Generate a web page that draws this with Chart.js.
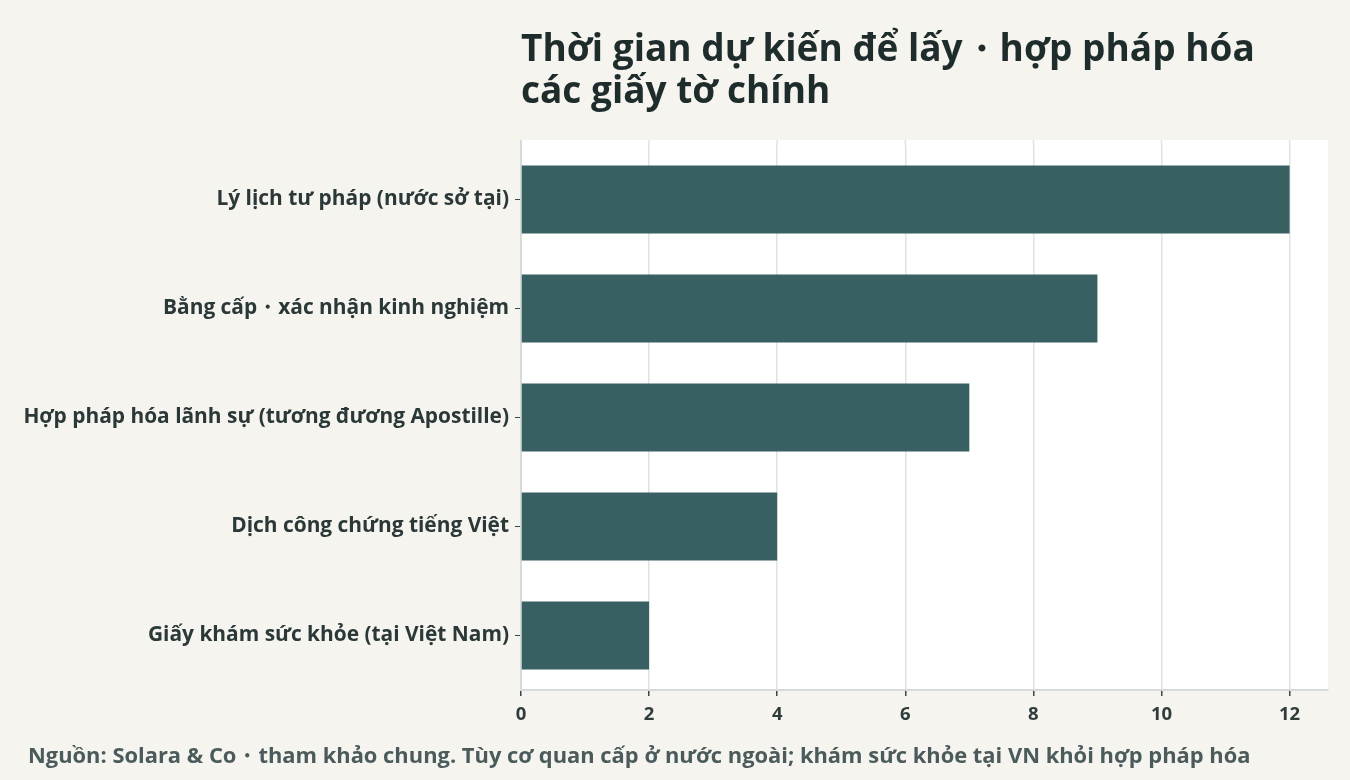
<!DOCTYPE html>
<html lang="vi">
<head>
  <meta charset="UTF-8">
  <title>Thời gian dự kiến để lấy · hợp pháp hóa các giấy tờ chính</title>
  <script src="https://cdn.jsdelivr.net/npm/chart.js"></script>
  <style>
    html, body { margin: 0; padding: 0; background: #f5f4ef; }
    #wrap { width: 1350px; height: 780px; position: relative; }
  </style>
</head>
<body>
  <div id="wrap"><canvas id="myChart"></canvas></div>
  <script>
    // Data
    var categories = [
      'Lý lịch tư pháp (nước sở tại)',
      'Bằng cấp・xác nhận kinh nghiệm',
      'Hợp pháp hóa lãnh sự (tương đương Apostille)',
      'Dịch công chứng tiếng Việt',
      'Giấy khám sức khỏe (tại Việt Nam)'
    ];
    var weeks = [12, 9, 7, 4, 2];
    var xTicks = [0, 2, 4, 6, 8, 10, 12];
    var titleLines = ['Thời gian dự kiến để lấy・hợp pháp hóa', 'các giấy tờ chính'];
    var sourceNote = 'Nguồn: Solara & Co・tham khảo chung. Tùy cơ quan cấp ở nước ngoài; khám sức khỏe tại VN khỏi hợp pháp hóa';

    var FONT = '"Open Sans", "Noto Sans", sans-serif';

    // white plot area + title + source line
    var decor = {
      id: 'decor',
      beforeDraw: function (chart) {
        var ctx = chart.ctx, a = chart.chartArea;
        ctx.save();
        ctx.fillStyle = '#ffffff';
        ctx.fillRect(a.left, a.top - 5, a.right - a.left, a.bottom - a.top + 5);
        ctx.strokeStyle = '#e0e3e3';
        ctx.lineWidth = 1.5;
        chart.scales.x.ticks.forEach(function (t) {
          var px = chart.scales.x.getPixelForValue(t.value);
          ctx.beginPath();
          ctx.moveTo(px, a.top - 5);
          ctx.lineTo(px, a.top);
          ctx.stroke();
        });
        ctx.restore();
      },
      afterDraw: function (chart) {
        var ctx = chart.ctx, a = chart.chartArea;
        ctx.save();
        ctx.strokeStyle = '#d6dada';
        ctx.lineWidth = 2;
        ctx.beginPath();
        ctx.moveTo(a.left, a.top - 5);
        ctx.lineTo(a.left, a.top);
        ctx.stroke();
        ctx.textBaseline = 'alphabetic';
        ctx.textAlign = 'left';
        ctx.fillStyle = '#1f2c2c';
        ctx.font = 'bold 37px ' + FONT;
        ctx.fillText(titleLines[0], a.left, 61);
        ctx.fillText(titleLines[1], a.left, 103);
        ctx.fillStyle = '#4b5b5b';
        ctx.font = 'bold 21.9px ' + FONT;
        ctx.fillText(sourceNote, 28, 763);
        ctx.restore();
      }
    };

    var ctx = document.getElementById('myChart').getContext('2d');
    var myChart = new Chart(ctx, {
      type: 'bar',
      data: {
        labels: categories,
        datasets: [{
          data: weeks,
          backgroundColor: '#386063',
          barPercentage: 0.625,
          categoryPercentage: 1
        }]
      },
      options: {
        indexAxis: 'y',
        responsive: true,
        maintainAspectRatio: false,
        animation: false,
        layout: { padding: { top: 145, right: 22, bottom: 55, left: 0 } },
        plugins: {
          legend: { display: false },
          tooltip: { enabled: false }
        },
        scales: {
          x: {
            min: 0,
            max: 12.6,
            afterBuildTicks: function (axis) {
              axis.ticks = xTicks.map(function (v) { return { value: v }; });
            },
            afterFit: function (axis) { axis.height = 35; },
            border: { display: true, color: '#d6dada', width: 2 },
            grid: { color: '#e0e3e3', lineWidth: 1.5, tickLength: 6, tickColor: '#3b4747' },
            ticks: {
              color: '#2f3c3c',
              padding: 8,
              font: { family: FONT, size: 18.5, weight: 'bold' }
            }
          },
          y: {
            afterFit: function (axis) { axis.width = 521; },
            border: { display: true, color: '#d6dada', width: 2 },
            grid: { drawOnChartArea: false, offset: false, tickLength: 6, tickColor: '#3b4747' },
            ticks: {
              color: '#2b3838',
              padding: 6,
              font: { family: FONT, size: 20.9, weight: 'bold' }
            }
          }
        }
      },
      plugins: [decor]
    });
  </script>
</body>
</html>
